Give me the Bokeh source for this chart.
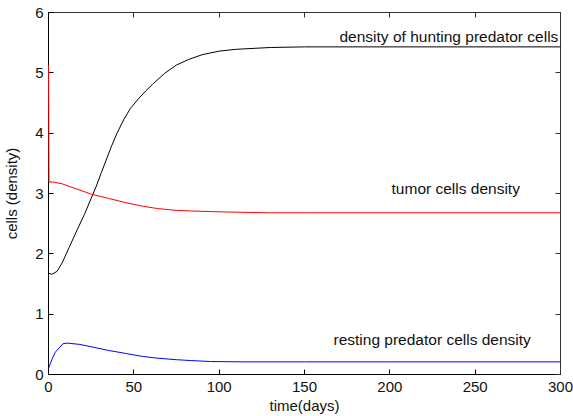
from bokeh.plotting import figure
from bokeh.models import Range1d, LinearAxis, FixedTicker, ColumnDataSource
from bokeh.core.properties import value
from bokeh.embed import file_html
from bokeh.resources import INLINE

# ---- data ----
t_hunt = [0, 2, 5, 8, 12, 17, 21, 25, 28, 31, 34, 37, 40, 44, 48, 53, 57, 61, 68, 75, 82, 90, 100, 110, 130, 150, 200, 250, 300]
hunt = [1.68, 1.66, 1.71, 1.85, 2.10, 2.41, 2.65, 2.92, 3.12, 3.35, 3.57, 3.79, 3.99, 4.22, 4.41, 4.58, 4.70, 4.81, 4.99, 5.13, 5.22, 5.30, 5.36, 5.39, 5.42, 5.43, 5.43, 5.43, 5.43]

t_tumor = [0, 0.3, 3, 8, 15, 25, 35, 45, 55, 64, 75, 84, 95, 111, 130, 150, 200, 300]
tumor = [5.13, 3.19, 3.19, 3.16, 3.09, 2.99, 2.92, 2.85, 2.79, 2.75, 2.72, 2.71, 2.70, 2.69, 2.68, 2.68, 2.68, 2.68]

t_rest = [0, 2, 4, 8.5, 11, 18, 25, 35, 45, 55, 64, 75, 84, 95, 111, 150, 200, 300]
rest = [0.10, 0.25, 0.37, 0.51, 0.52, 0.50, 0.46, 0.40, 0.35, 0.30, 0.27, 0.245, 0.23, 0.215, 0.21, 0.21, 0.21, 0.21]

label_text = ["density of hunting predator  cells", "tumor cells density", "resting predator cells density"]
label_x = [170.5, 201, 167]
label_y = [5.60, 3.09, 0.58]

x_ticks = [0, 50, 100, 150, 200, 250, 300]
y_ticks = [0, 1, 2, 3, 4, 5, 6]

FONT = "Liberation Sans"

p = figure(width=573, height=416, output_backend="svg", toolbar_location=None,
           x_range=Range1d(0, 300), y_range=Range1d(0, 6),
           min_border_left=47, min_border_right=13, min_border_top=12, min_border_bottom=40)
p.grid.visible = False
p.outline_line_color = "black"
p.outline_line_width = 1
p.background_fill_color = "white"
p.border_fill_color = "white"

for ax, ticks in ((p.xaxis[0], x_ticks), (p.yaxis[0], y_ticks)):
    ax.ticker = FixedTicker(ticks=ticks)
    ax.major_tick_in = 5
    ax.major_tick_out = 0
    ax.minor_tick_in = 0
    ax.minor_tick_out = 0
    ax.axis_line_color = "black"
    ax.major_tick_line_color = "black"
    ax.major_label_text_font = FONT
    ax.major_label_text_font_size = "15px"
    ax.major_label_text_color = "#111111"
    ax.axis_label_text_font = FONT
    ax.axis_label_text_font_size = "15px"
    ax.axis_label_text_font_style = "normal"
    ax.axis_label_text_color = "#111111"

p.xaxis[0].axis_label = "time(days)"
p.xaxis[0].major_label_standoff = 7
p.xaxis[0].axis_label_standoff = 2
p.yaxis[0].axis_label = "cells (density)"
p.yaxis[0].major_label_standoff = 5
p.yaxis[0].axis_label_standoff = 12

# mirrored tick axes (top / right) with no labels
for loc, ticks in (("above", x_ticks), ("right", y_ticks)):
    ax = LinearAxis(ticker=FixedTicker(ticks=ticks), major_tick_in=5, major_tick_out=0,
                    minor_tick_in=0, minor_tick_out=0, axis_line_color="#333333",
                    major_tick_line_color="#333333", major_label_text_font_size="1px",
                    major_label_text_alpha=0, major_label_standoff=0)
    p.add_layout(ax, loc)

p.line(t_hunt, hunt, line_color="black", line_width=1, level="overlay")
p.line(t_tumor, tumor, line_color="#ff0000", line_width=1, level="overlay")
p.line(t_rest, rest, line_color="#0000ff", line_width=1, level="overlay")

src = ColumnDataSource(data=dict(x=label_x, y=label_y, text=label_text))
p.text(x="x", y="y", text="text", source=src, text_font=value(FONT), text_font_size="15.5px",
       text_color="#111111", text_baseline="middle", text_align="left")

open("out.html", "w").write(file_html(p, INLINE))
